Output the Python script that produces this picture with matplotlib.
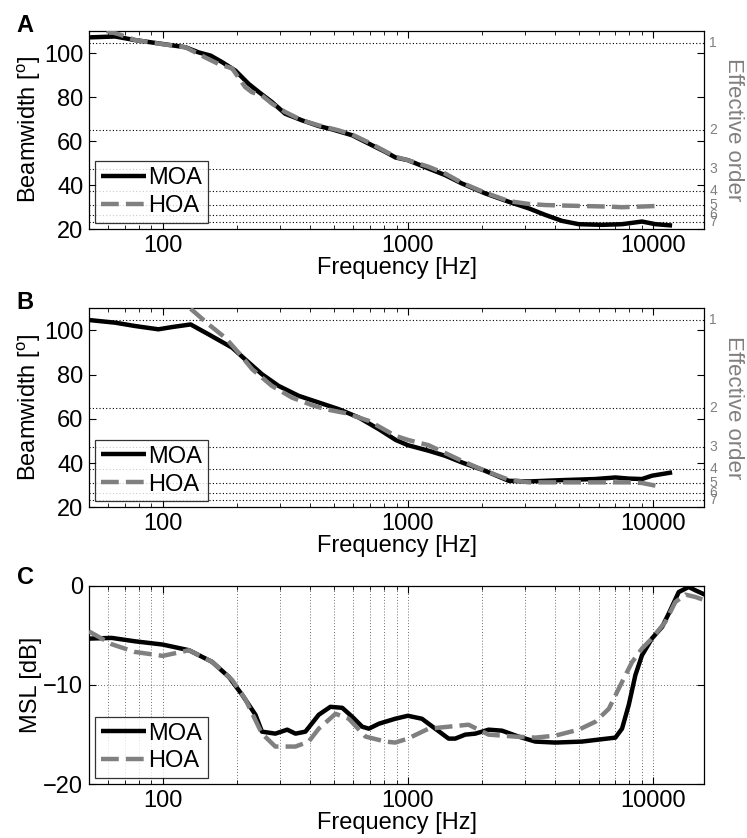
import numpy as np
import matplotlib
matplotlib.use("Agg")
import matplotlib.pyplot as plt
from matplotlib.ticker import LogLocator, FixedLocator, NullFormatter
import matplotlib.transforms as mtransforms

plt.rcParams['font.family'] = ['Liberation Sans', 'DejaVu Sans']
plt.rcParams['mathtext.default'] = 'regular'

# --- data ---
# panel A
fa_moa = [50, 64, 77, 100, 124, 140, 157, 175, 198, 224, 247, 279, 316, 370, 433, 491,
          593, 693, 811, 891, 1000, 1214, 1420, 1661, 2067, 2577, 3110, 3637, 4254,
          4975, 6194, 7472, 9016, 10230, 11960]
bw_a_moa = [107.1, 107.5, 105.9, 104.1, 102.6, 100.3, 98.8, 95.8, 92.0, 86.0, 82.2, 77.7,
            72.4, 69.4, 66.8, 65.3, 62.6, 58.8, 55.0, 52.5, 51.3, 47.5, 44.5, 40.7, 36.2,
            32.4, 29.4, 26.4, 23.7, 22.2, 21.9, 22.2, 23.4, 22.2, 21.6]
fa_hoa = [59, 66, 77, 100, 124, 149, 169, 192, 217, 231, 254, 279, 316, 370, 433, 520,
          593, 693, 891, 1000, 1214, 1420, 1661, 2067, 2577, 3110, 3637, 4975, 6598,
          7472, 10540]
bw_a_hoa = [110.0, 108.6, 105.9, 104.0, 102.6, 98.0, 95.0, 93.0, 84.5, 82.2, 80.7, 77.0,
            73.2, 69.4, 67.1, 64.9, 62.9, 59.3, 52.8, 51.3, 48.3, 45.2, 41.0, 36.5, 32.7,
            31.4, 30.9, 30.5, 30.2, 29.9, 30.5]

# panel B
fb_moa = [50, 64, 77, 96, 109, 130, 154, 192, 217, 254, 297, 359, 433, 522, 631, 762,
          891, 1000, 1214, 1420, 1661, 2067, 2577, 3110, 4254, 5820, 7020, 7946, 9016,
          9900, 11960]
bw_b_moa = [104.7, 103.5, 102.0, 100.5, 101.5, 102.7, 98.2, 92.2, 86.9, 80.2, 74.9, 70.4,
            67.4, 64.4, 60.6, 55.3, 50.5, 48.1, 45.6, 43.3, 40.3, 36.5, 32.0, 31.7, 32.3,
            32.8, 33.5, 33.0, 32.8, 34.3, 35.8]
fb_hoa = [130, 154, 180, 204, 232, 279, 337, 407, 461, 557, 693, 891, 1000, 1214, 1661,
          2067, 2577, 3110, 4254, 5820, 7946, 9016, 10540]
bw_b_hoa = [109.8, 102.7, 96.7, 89.9, 82.4, 74.9, 69.6, 66.2, 64.4, 62.6, 59.1, 52.3, 50.5,
            48.1, 41.0, 36.5, 32.5, 31.3, 31.3, 31.3, 31.3, 31.0, 29.5]

# panel C
fc_moa = [50, 62, 77, 100, 128, 159, 186, 211, 239, 254, 288, 322, 348, 382, 433, 483,
          540, 593, 651, 693, 762, 888, 1000, 1141, 1293, 1466, 1560, 1714, 1884, 2134,
          2420, 2830, 3312, 3993, 5128, 7020, 7472, 7962, 8472, 9016, 9907, 10890, 11590,
          12730, 13980, 14890, 16250]
msl_moa = [-5.33, -5.26, -5.6, -5.93, -6.5, -7.67, -9.18, -11.0, -13.0, -14.7, -14.9, -14.5,
           -14.9, -14.7, -13.0, -12.2, -12.3, -13.2, -14.2, -14.4, -13.9, -13.4, -13.1,
           -13.4, -14.4, -15.4, -15.4, -15.0, -14.9, -14.5, -14.6, -15.2, -15.7, -15.8,
           -15.7, -15.3, -14.4, -12.0, -9.0, -7.0, -5.3, -4.15, -2.8, -0.64, -0.13, -0.47,
           -0.9]
fc_hoa = [50, 62, 77, 100, 128, 159, 192, 217, 254, 288, 348, 394, 433, 507, 574, 672, 811,
          888, 1000, 1214, 1466, 1768, 2134, 2741, 3312, 3993, 4975, 5820, 6598, 7472,
          8210, 9016, 9907, 11220, 12330, 13550, 14890, 16250]
msl_hoa = [-4.6, -5.9, -6.67, -7.07, -6.5, -7.67, -9.5, -11.4, -14.9, -16.2, -16.2, -15.7,
           -14.4, -12.9, -13.4, -15.2, -15.7, -15.8, -15.4, -14.4, -14.2, -14.0, -15.0,
           -15.2, -15.3, -15.1, -14.5, -13.7, -12.4, -9.7, -7.7, -6.33, -5.3, -3.65, -1.64,
           -0.9, -1.14, -1.47]

# beamwidth of each effective order (dotted reference lines)
order_bw = [104.6, 64.8, 47.4, 37.4, 30.9, 26.5, 23.1]
order_labels = ['1', '2', '3', '4', '5', '6', '7']

GRAY = '#808080'
XLIM = (50, 16200)
FS = 17


def style_axes(ax):
    ax.set_xscale('log')
    ax.set_xlim(*XLIM)
    ax.xaxis.set_major_locator(FixedLocator([100, 1000, 10000]))
    ax.xaxis.set_minor_locator(LogLocator(base=10, subs=np.arange(2, 10)))
    ax.xaxis.set_minor_formatter(NullFormatter())
    ax.set_xticklabels(['100', '1000', '10000'])
    ax.tick_params(which='both', direction='in', top=True, right=True, labelsize=FS)
    ax.tick_params(which='major', length=5, width=0.8, pad=4)
    ax.tick_params(which='minor', length=3, width=0.6)
    for s in ax.spines.values():
        s.set_linewidth(0.9)
    ax.set_xlabel('Frequency [Hz]', fontsize=FS, labelpad=0)


def plot_lines(ax, f1, y1, f2, y2):
    ax.plot(f1, y1, color='black', lw=3.2, label='MOA', solid_capstyle='butt', zorder=3)
    ax.plot(f2, y2, color=GRAY, lw=3.2, ls=(0, (4, 1.6)), label='HOA', zorder=3)
    leg = ax.legend(loc='lower left', fontsize=FS, frameon=True, fancybox=False,
                    handlelength=1.9, handletextpad=0.1, borderpad=0.25,
                    labelspacing=0.25, borderaxespad=0.25)
    leg.get_frame().set_edgecolor('black')
    leg.get_frame().set_linewidth(0.9)
    leg.set_zorder(5)


def beam_panel(ax, f1, y1, f2, y2):
    style_axes(ax)
    for bw in order_bw:
        ax.axhline(bw, color='black', ls=(0, (1, 2)), lw=0.8, zorder=1)
    plot_lines(ax, f1, y1, f2, y2)
    ax.set_ylim(20, 110)
    ax.set_yticks([20, 40, 60, 80, 100])
    ax.set_ylabel('Beamwidth [$^{o}$]', fontsize=FS, labelpad=1)
    trans = mtransforms.blended_transform_factory(ax.transAxes, ax.transData)
    for bw, lab in zip(order_bw, order_labels):
        ax.text(1.008, bw, lab, transform=trans, color=GRAY, fontsize=10,
                ha='left', va='center')
    ax.text(1.047, 0.5, 'Effective order', transform=ax.transAxes, color=GRAY,
            fontsize=16, rotation=270, ha='center', va='center')


fig = plt.figure(figsize=(7.47, 8.38), dpi=100)
ax_a = fig.add_axes([0.119, 0.7267, 0.824, 0.2363])
ax_b = fig.add_axes([0.119, 0.3946, 0.824, 0.2375])
ax_c = fig.add_axes([0.119, 0.0641, 0.824, 0.2370])

beam_panel(ax_a, fa_moa, bw_a_moa, fa_hoa, bw_a_hoa)
beam_panel(ax_b, fb_moa, bw_b_moa, fb_hoa, bw_b_hoa)

style_axes(ax_c)
ax_c.grid(True, which='both', axis='x', color='0.25', ls=(0, (1, 2.5)), lw=0.6)
ax_c.grid(True, which='major', axis='y', color='0.25', ls=(0, (1, 2.5)), lw=0.6)
plot_lines(ax_c, fc_moa, msl_moa, fc_hoa, msl_hoa)
ax_c.set_ylim(-20, 0)
ax_c.set_yticks([-20, -10, 0])
ax_c.set_ylabel('MSL [dB]', fontsize=FS, labelpad=1)

for lab, y in [('A', 25), ('B', 302), ('C', 578)]:
    fig.text(25 / 747, 1 - y / 838, lab, fontsize=FS, fontweight='bold',
             ha='center', va='center')

fig.savefig('out.png', dpi=100)
